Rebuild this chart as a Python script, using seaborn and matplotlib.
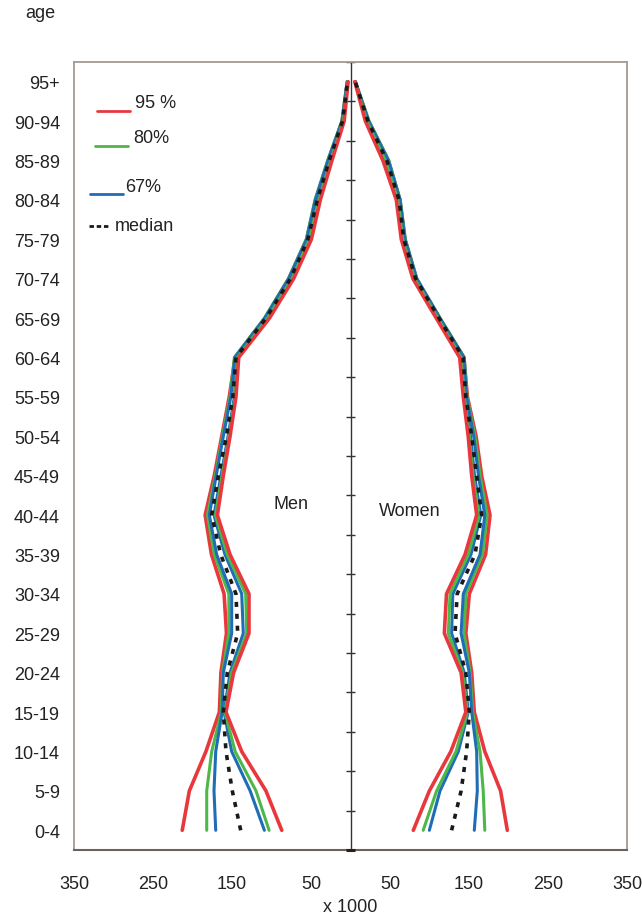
import numpy as np
import pandas as pd
import matplotlib
matplotlib.use("Agg")
import matplotlib.pyplot as plt
import seaborn as sns

# ---------------- data (thousands) ----------------
age_groups = ["0-4", "5-9", "10-14", "15-19", "20-24", "25-29", "30-34", "35-39",
              "40-44", "45-49", "50-54", "55-59", "60-64", "65-69", "70-74",
              "75-79", "80-84", "85-89", "90-94", "95+"]

men_95_hi = [213, 204, 183, 166, 164, 157, 160, 176, 184, 172.5, 163, 153.5, 146, 108, 78, 55.5, 44, 28, 10.5, 4]
men_80_hi = [182, 182, 175.7, 163.5, 162, 154, 154, 172.4, 181, 171, 162, 152.5, 147, 109, 78.7, 56, 45, 29, 11, 4.2]
men_67_hi = [170.6, 172.8, 170.6, 162.5, 161, 150.4, 150.4, 169.4, 178.7, 170, 161, 151.5, 146.5, 108.5, 78.3, 55.5, 44.5, 28.5, 10.7, 4]
men_median = [139, 149.6, 157.6, 161, 156, 142.8, 145, 164.3, 175.7, 167.3, 157, 149, 145, 107, 76, 54, 42, 27, 10, 3.8]
men_67_lo = [109, 127, 150.4, 160, 152.5, 135.7, 137.7, 158.9, 172.8, 164, 155, 147, 144, 106, 74.5, 52.5, 40.5, 25.5, 9.5, 3.5]
men_80_lo = [103, 119.6, 146, 159, 150.4, 131.4, 132.7, 156, 171, 162.5, 154, 146, 143, 105, 74, 52, 40, 25, 9, 3.3]
men_95_lo = [87, 107, 137.7, 157.6, 148, 128.5, 128.5, 152.5, 168.5, 161, 152.5, 145, 141.5, 102.5, 72, 49.5, 38.2, 23.5, 8, 3]

women_95_lo = [79.5, 99.8, 127, 146, 140, 118.8, 121.5, 145, 159.7, 153.4, 149, 142.8, 138.2, 108.5, 79, 64.3, 58, 41, 18.8, 5.5]
women_80_lo = [92, 109, 133.5, 148, 142, 123.8, 126, 149, 163, 155, 150.5, 144, 140, 110.5, 81, 66, 60, 44, 20.5, 5.7]
women_67_lo = [99.8, 113.3, 136.5, 149, 144, 128, 129.5, 152.5, 165, 157, 152, 145, 141.5, 111.5, 82, 67, 61, 45.5, 21.5, 5.8]
women_median = [128, 140, 147, 150.4, 146, 132.3, 135, 157.6, 166, 159.7, 153.4, 146, 142.5, 112, 82.5, 67.5, 61.5, 46, 22, 6]
women_67_hi = [156.7, 160.5, 159.7, 153.4, 150.4, 140, 142.8, 164, 170, 162, 156, 147, 143.7, 113, 83.8, 69, 62.7, 48, 23, 6]
women_80_hi = [170, 168, 164, 154.6, 151.5, 143.7, 146, 167, 173, 164, 157.5, 147.5, 144, 113.5, 84, 69.5, 63, 48.5, 23.5, 6.1]
women_95_hi = [198.5, 190, 170, 156.7, 153.4, 146, 150.4, 171, 176.6, 166, 159, 148, 143.5, 112.8, 83.5, 68.8, 62.5, 47.8, 22.8, 6]

x_ticks = [-350, -250, -150, -50, 50, 150, 250, 350]
x_tick_labels = ["350", "250", "150", "50", "50", "150", "250", "350"]

legend_labels = ["95 %", "80%", "67%", "median"]

# ---------------- style ----------------
sns.set_style("white")
plt.rcParams["font.family"] = ["Liberation Sans", "DejaVu Sans"]

RED = "#e8383d"
GREEN = "#4db848"
BLUE = "#1f6db5"
BLACK = "#1a1a1a"
SPINE = "#a59a92"
AXIS_DARK = "#6b625c"
TXT = "#222222"
FS = 13

fig = plt.figure(figsize=(6.42, 9.2), dpi=100)
ax = fig.add_axes([74 / 642, 1 - 851 / 920, 553 / 642, 788 / 920])

idx = np.arange(len(age_groups))

# drawing order: upper bounds, then lower bounds (lower 95% on top), then median
series = [
    (men_95_hi, -1, RED, 2.6), (women_95_hi, 1, RED, 2.6),
    (men_80_hi, -1, GREEN, 2.2), (women_80_hi, 1, GREEN, 2.2),
    (men_67_hi, -1, BLUE, 2.2), (women_67_hi, 1, BLUE, 2.2),
    (men_67_lo, -1, BLUE, 2.2), (women_67_lo, 1, BLUE, 2.2),
    (men_80_lo, -1, GREEN, 2.2), (women_80_lo, 1, GREEN, 2.2),
    (men_95_lo, -1, RED, 2.6), (women_95_lo, 1, RED, 2.6),
]
for vals, sign, col, lw in series:
    df = pd.DataFrame({"x": sign * np.asarray(vals, float), "y": idx})
    sns.lineplot(data=df, x="x", y="y", orient="y", estimator=None, sort=True,
                 color=col, lw=lw, ax=ax)

for vals, sign in [(men_median, -1), (women_median, 1)]:
    df = pd.DataFrame({"x": sign * np.asarray(vals, float), "y": idx})
    sns.lineplot(data=df, x="x", y="y", orient="y", estimator=None, sort=True,
                 color=BLACK, lw=2.6, ax=ax, linestyle=(0, (1.4, 1.9)))

# center axis with ticks at category boundaries
ax.axvline(0, color="#333333", lw=1.0, zorder=1)
bounds = np.arange(len(age_groups) + 1) - 0.5
ax.hlines(bounds[1:], -6.3, 6.3, color="#333333", lw=1.0, zorder=1)
ax.hlines([bounds[0]], -6.3, 6.3, color="#222222", lw=2.2, zorder=5, clip_on=False)

ax.set_xlim(-350, 350)
ax.set_ylim(-0.5, len(age_groups) - 0.5)
ax.set_xticks(x_ticks)
ax.set_xticklabels(x_tick_labels)
ax.set_yticks(idx)
ax.set_yticklabels(age_groups)
ax.set_xlabel("")
ax.set_ylabel("")
ax.tick_params(axis="y", length=0, pad=10, labelsize=FS, colors=TXT)
ax.tick_params(axis="x", direction="out", length=4, width=1, color=AXIS_DARK,
               pad=14, labelsize=FS, labelcolor=TXT)
for s in ["left", "top", "right"]:
    ax.spines[s].set_color(SPINE)
    ax.spines[s].set_linewidth(1.3)
    ax.spines[s].set_visible(True)
ax.spines["bottom"].set_color(AXIS_DARK)
ax.spines["bottom"].set_linewidth(1.5)
ax.spines["bottom"].set_visible(True)
ax.grid(False)

# manual legend (axes fraction)
tr = ax.transAxes
leg = [
    (RED, (0.0416, 0.1013), 0.9378, legend_labels[0], 0.1103, 0.9492),
    (GREEN, (0.0380, 0.0976), 0.8934, legend_labels[1], 0.1067, 0.9048),
    (BLUE, (0.0289, 0.0886), 0.8325, legend_labels[2], 0.0922, 0.8426),
]
for col, (x0, x1), yl, lab, xt, yt in leg:
    ax.plot([x0, x1], [yl, yl], color=col, lw=2.0, transform=tr, clip_on=False)
    ax.text(xt, yt, lab, transform=tr, fontsize=FS, va="center", ha="left", color=TXT)
ax.plot([0.0271, 0.0633], [0.7919, 0.7919], color=BLACK, lw=2.0,
        linestyle=(0, (1.6, 1.0)), transform=tr)
ax.text(0.0741, 0.7931, legend_labels[3], transform=tr, fontsize=FS,
        va="center", ha="left", color=TXT)

# panel labels
ax.text(-75, 8.3, "Men", fontsize=FS, ha="center", va="center", color=TXT)
ax.text(75, 8.12, "Women", fontsize=FS, ha="center", va="center", color=TXT)

fig.text(40 / 642, 1 - 14 / 920, "age", fontsize=FS, ha="center", va="center", color=TXT)
fig.text(350 / 642, 1 - 908 / 920, "x 1000", fontsize=FS, ha="center", va="center", color=TXT)

fig.savefig("out.png", dpi=100)
